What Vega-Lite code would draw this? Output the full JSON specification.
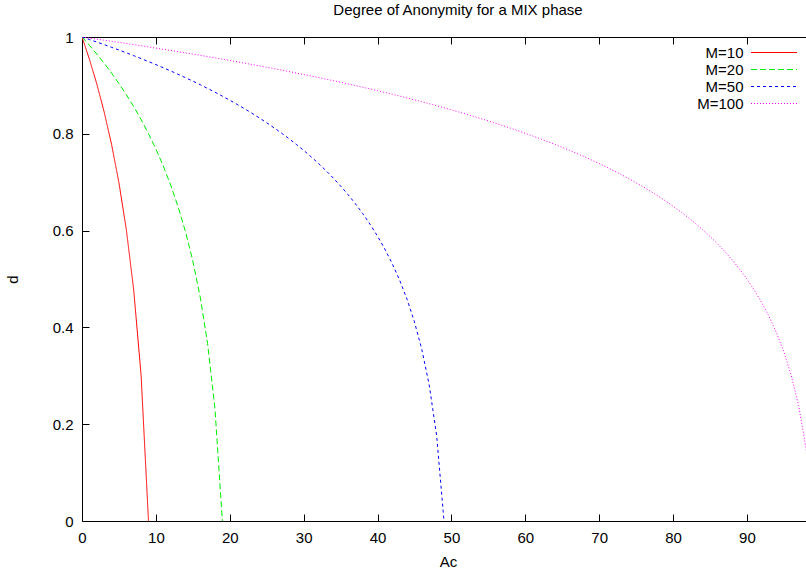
{
  "$schema": "https://vega.github.io/schema/vega-lite/v6.json",
  "width": 724,
  "height": 484,
  "autosize": {"type": "none"},
  "padding": {"left": 82, "top": 37, "right": 0, "bottom": 55},
  "background": "white",
  "title": {"text": "Degree of Anonymity for a MIX phase", "font": "Liberation Sans", "fontSize": 15, "fontWeight": "normal", "color": "black", "anchor": "middle", "dx": 14, "offset": 12},
  "config": {
    "view": {"stroke": null},
    "axis": {"domainColor": "black", "tickColor": "black", "labelColor": "black", "titleColor": "black", "labelFont": "Liberation Sans", "titleFont": "Liberation Sans", "labelFontSize": 15, "titleFontSize": 15, "titleFontWeight": "normal", "grid": false, "tickSize": -7, "domainWidth": 1, "tickWidth": 1},
    "legend": {"labelFont": "Liberation Sans", "labelFontSize": 15, "labelColor": "black"}
  },
  "data": {"values": [
    {"M":"M=10","Ac":0,"d":1},{"M":"M=10","Ac":1,"d":0.954243},{"M":"M=10","Ac":2,"d":0.90309},{"M":"M=10","Ac":3,"d":0.845098},{"M":"M=10","Ac":4,"d":0.778151},{"M":"M=10","Ac":5,"d":0.69897},{"M":"M=10","Ac":6,"d":0.60206},{"M":"M=10","Ac":7,"d":0.477121},{"M":"M=10","Ac":8,"d":0.30103},{"M":"M=10","Ac":9,"d":0},
    {"M":"M=20","Ac":0,"d":1},{"M":"M=20","Ac":1,"d":0.982878},{"M":"M=20","Ac":2,"d":0.96483},{"M":"M=20","Ac":3,"d":0.94575},{"M":"M=20","Ac":4,"d":0.925513},{"M":"M=20","Ac":5,"d":0.90397},{"M":"M=20","Ac":6,"d":0.880939},{"M":"M=20","Ac":7,"d":0.856201},{"M":"M=20","Ac":8,"d":0.829482},{"M":"M=20","Ac":9,"d":0.800437},{"M":"M=20","Ac":10,"d":0.768622},{"M":"M=20","Ac":11,"d":0.733452},{"M":"M=20","Ac":12,"d":0.694135},{"M":"M=20","Ac":13,"d":0.649561},{"M":"M=20","Ac":14,"d":0.598104},{"M":"M=20","Ac":15,"d":0.537244},{"M":"M=20","Ac":16,"d":0.462756},{"M":"M=20","Ac":17,"d":0.366726},{"M":"M=20","Ac":18,"d":0.231378},{"M":"M=20","Ac":19,"d":0},
    {"M":"M=50","Ac":0,"d":1},{"M":"M=50","Ac":1,"d":0.994836},{"M":"M=50","Ac":2,"d":0.989565},{"M":"M=50","Ac":3,"d":0.984183},{"M":"M=50","Ac":4,"d":0.978686},{"M":"M=50","Ac":5,"d":0.973067},{"M":"M=50","Ac":6,"d":0.967323},{"M":"M=50","Ac":7,"d":0.961446},{"M":"M=50","Ac":8,"d":0.955431},{"M":"M=50","Ac":9,"d":0.949271},{"M":"M=50","Ac":10,"d":0.942959},{"M":"M=50","Ac":11,"d":0.936488},{"M":"M=50","Ac":12,"d":0.929848},{"M":"M=50","Ac":13,"d":0.923031},{"M":"M=50","Ac":14,"d":0.916027},{"M":"M=50","Ac":15,"d":0.908826},{"M":"M=50","Ac":16,"d":0.901416},{"M":"M=50","Ac":17,"d":0.893785},{"M":"M=50","Ac":18,"d":0.885919},{"M":"M=50","Ac":19,"d":0.877803},{"M":"M=50","Ac":20,"d":0.869421},{"M":"M=50","Ac":21,"d":0.860755},{"M":"M=50","Ac":22,"d":0.851785},{"M":"M=50","Ac":23,"d":0.842489},{"M":"M=50","Ac":24,"d":0.832842},{"M":"M=50","Ac":25,"d":0.822816},{"M":"M=50","Ac":26,"d":0.812381},{"M":"M=50","Ac":27,"d":0.801502},{"M":"M=50","Ac":28,"d":0.790139},{"M":"M=50","Ac":29,"d":0.778247},{"M":"M=50","Ac":30,"d":0.765775},{"M":"M=50","Ac":31,"d":0.752664},{"M":"M=50","Ac":32,"d":0.738843},{"M":"M=50","Ac":33,"d":0.724232},{"M":"M=50","Ac":34,"d":0.708735},{"M":"M=50","Ac":35,"d":0.692238},{"M":"M=50","Ac":36,"d":0.674601},{"M":"M=50","Ac":37,"d":0.655658},{"M":"M=50","Ac":38,"d":0.635197},{"M":"M=50","Ac":39,"d":0.612955},{"M":"M=50","Ac":40,"d":0.588592},{"M":"M=50","Ac":41,"d":0.56166},{"M":"M=50","Ac":42,"d":0.531551},{"M":"M=50","Ac":43,"d":0.497418},{"M":"M=50","Ac":44,"d":0.458014},{"M":"M=50","Ac":45,"d":0.411408},{"M":"M=50","Ac":46,"d":0.354368},{"M":"M=50","Ac":47,"d":0.28083},{"M":"M=50","Ac":48,"d":0.177184},{"M":"M=50","Ac":49,"d":0},
    {"M":"M=100","Ac":0,"d":1},{"M":"M=100","Ac":1,"d":0.9978},{"M":"M=100","Ac":2,"d":0.9956},{"M":"M=100","Ac":3,"d":0.9934},{"M":"M=100","Ac":4,"d":0.9911},{"M":"M=100","Ac":5,"d":0.9889},{"M":"M=100","Ac":6,"d":0.9866},{"M":"M=100","Ac":7,"d":0.9842},{"M":"M=100","Ac":8,"d":0.9819},{"M":"M=100","Ac":9,"d":0.9795},{"M":"M=100","Ac":10,"d":0.9771},{"M":"M=100","Ac":11,"d":0.9747},{"M":"M=100","Ac":12,"d":0.9722},{"M":"M=100","Ac":13,"d":0.9698},{"M":"M=100","Ac":14,"d":0.9672},{"M":"M=100","Ac":15,"d":0.9647},{"M":"M=100","Ac":16,"d":0.9621},{"M":"M=100","Ac":17,"d":0.9595},{"M":"M=100","Ac":18,"d":0.9569},{"M":"M=100","Ac":19,"d":0.9542},{"M":"M=100","Ac":20,"d":0.9515},{"M":"M=100","Ac":21,"d":0.9488},{"M":"M=100","Ac":22,"d":0.946},{"M":"M=100","Ac":23,"d":0.9432},{"M":"M=100","Ac":24,"d":0.9404},{"M":"M=100","Ac":25,"d":0.9375},{"M":"M=100","Ac":26,"d":0.9346},{"M":"M=100","Ac":27,"d":0.9317},{"M":"M=100","Ac":28,"d":0.9287},{"M":"M=100","Ac":29,"d":0.9256},{"M":"M=100","Ac":30,"d":0.9225},{"M":"M=100","Ac":31,"d":0.9194},{"M":"M=100","Ac":32,"d":0.9163},{"M":"M=100","Ac":33,"d":0.913},{"M":"M=100","Ac":34,"d":0.9098},{"M":"M=100","Ac":35,"d":0.9065},{"M":"M=100","Ac":36,"d":0.9031},{"M":"M=100","Ac":37,"d":0.8997},{"M":"M=100","Ac":38,"d":0.8962},{"M":"M=100","Ac":39,"d":0.8927},{"M":"M=100","Ac":40,"d":0.8891},{"M":"M=100","Ac":41,"d":0.8854},{"M":"M=100","Ac":42,"d":0.8817},{"M":"M=100","Ac":43,"d":0.8779},{"M":"M=100","Ac":44,"d":0.8741},{"M":"M=100","Ac":45,"d":0.8702},{"M":"M=100","Ac":46,"d":0.8662},{"M":"M=100","Ac":47,"d":0.8621},{"M":"M=100","Ac":48,"d":0.858},{"M":"M=100","Ac":49,"d":0.8538},{"M":"M=100","Ac":50,"d":0.8495},{"M":"M=100","Ac":51,"d":0.8451},{"M":"M=100","Ac":52,"d":0.8406},{"M":"M=100","Ac":53,"d":0.836},{"M":"M=100","Ac":54,"d":0.8314},{"M":"M=100","Ac":55,"d":0.8266},{"M":"M=100","Ac":56,"d":0.8217},{"M":"M=100","Ac":57,"d":0.8167},{"M":"M=100","Ac":58,"d":0.8116},{"M":"M=100","Ac":59,"d":0.8064},{"M":"M=100","Ac":60,"d":0.801},{"M":"M=100","Ac":61,"d":0.7955},{"M":"M=100","Ac":62,"d":0.7899},{"M":"M=100","Ac":63,"d":0.7841},{"M":"M=100","Ac":64,"d":0.7782},{"M":"M=100","Ac":65,"d":0.772},{"M":"M=100","Ac":66,"d":0.7657},{"M":"M=100","Ac":67,"d":0.7593},{"M":"M=100","Ac":68,"d":0.7526},{"M":"M=100","Ac":69,"d":0.7457},{"M":"M=100","Ac":70,"d":0.7386},{"M":"M=100","Ac":71,"d":0.7312},{"M":"M=100","Ac":72,"d":0.7236},{"M":"M=100","Ac":73,"d":0.7157},{"M":"M=100","Ac":74,"d":0.7075},{"M":"M=100","Ac":75,"d":0.699},{"M":"M=100","Ac":76,"d":0.6901},{"M":"M=100","Ac":77,"d":0.6809},{"M":"M=100","Ac":78,"d":0.6712},{"M":"M=100","Ac":79,"d":0.6611},{"M":"M=100","Ac":80,"d":0.6505},{"M":"M=100","Ac":81,"d":0.6394},{"M":"M=100","Ac":82,"d":0.6276},{"M":"M=100","Ac":83,"d":0.6152},{"M":"M=100","Ac":84,"d":0.6021},{"M":"M=100","Ac":85,"d":0.588},{"M":"M=100","Ac":86,"d":0.5731},{"M":"M=100","Ac":87,"d":0.557},{"M":"M=100","Ac":88,"d":0.5396},{"M":"M=100","Ac":89,"d":0.5207},{"M":"M=100","Ac":90,"d":0.5},{"M":"M=100","Ac":91,"d":0.4771},{"M":"M=100","Ac":92,"d":0.4515},{"M":"M=100","Ac":93,"d":0.4225},{"M":"M=100","Ac":94,"d":0.3891},{"M":"M=100","Ac":95,"d":0.3495},{"M":"M=100","Ac":96,"d":0.301},{"M":"M=100","Ac":97,"d":0.2386},{"M":"M=100","Ac":98,"d":0.1505},{"M":"M=100","Ac":99,"d":0}
  ]},
  "layer": [
    {
      "mark": {"type": "line", "strokeWidth": 1, "clip": true},
      "encoding": {
        "x": {"field": "Ac", "type": "quantitative", "scale": {"domain": [0, 98], "nice": false, "zero": false}, "axis": {"title": "Ac", "values": [0,10,20,30,40,50,60,70,80,90], "labelPadding": 16, "titlePadding": 9, "titleX": 366, "labelFlush": false}},
        "y": {"field": "d", "type": "quantitative", "scale": {"domain": [0, 1], "nice": false}, "axis": {"title": "d", "values": [0,0.2,0.4,0.6,0.8,1], "format": "~g", "labelPadding": 16, "titlePadding": 32, "labelFlush": false}},
        "color": {"field": "M", "type": "nominal", "scale": {"domain": ["M=10","M=20","M=50","M=100"], "range": ["#ff0000","#00ee00","#0000ff","#ff00ff"]}, "legend": {"title": null, "orient": "none", "legendX": 684.5, "legendY": 8, "symbolType": "M -4.6 0 H 4.6", "symbolSize": 100, "symbolStrokeWidth": 1, "labelAlign": "right", "labelOffset": -38, "rowPadding": 1}},
        "strokeDash": {"field": "M", "type": "nominal", "scale": {"domain": ["M=10","M=20","M=50","M=100"], "range": [[1,0],[6,3],[3,3],[1,2]]}, "legend": {"title": null, "orient": "none", "legendX": 684.5, "legendY": 8, "symbolType": "M -4.6 0 H 4.6", "symbolSize": 100, "symbolStrokeWidth": 1, "labelAlign": "right", "labelOffset": -38, "rowPadding": 1}},
        "detail": {"field": "M"}
      }
    },
    {
      "mark": {"type": "line", "opacity": 0},
      "encoding": {
        "x": {"field": "Ac", "type": "quantitative", "scale": {"domain": [0, 98], "nice": false, "zero": false}, "axis": {"orient": "top", "title": null, "labels": false, "values": [0,10,20,30,40,50,60,70,80,90]}},
        "y": {"field": "d", "type": "quantitative"}
      }
    }
  ],
  "resolve": {"axis": {"x": "independent"}}
}
